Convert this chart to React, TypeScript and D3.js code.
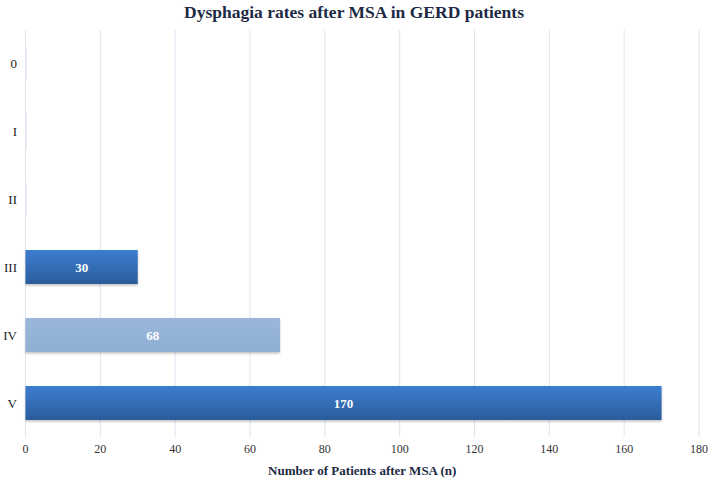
import * as d3 from "d3";

// Dysphagia grade per category, patient counts after MSA
const CATEGORIES = ["0", "I", "II", "III", "IV", "V"];
const VALUES = [0, 0, 0, 30, 68, 170];
const BAR_STYLE = ["dark", "dark", "dark", "dark", "light", "dark"];
const X_TICKS = [0, 20, 40, 60, 80, 100, 120, 140, 160, 180];

const W = 708;
const H = 481;
const FONT = "'Liberation Serif', 'Times New Roman', serif";

export default function App() {
  const x = d3.scaleLinear().domain([0, 180]).range([25.5, 699]);
  const y = d3.scaleBand<string>().domain(CATEGORIES).range([29, 437]).paddingInner(0.5).paddingOuter(0.25);

  return (
    <svg width={W} height={H} style={{ position: "absolute", left: 0, top: 0, background: "#fff" }}>
      <defs>
        <linearGradient id="dark" x1="0" y1="0" x2="0" y2="1">
          <stop offset="0" stopColor="#3b7dd0" />
          <stop offset="1" stopColor="#2b5d9b" />
        </linearGradient>
        <linearGradient id="light" x1="0" y1="0" x2="0" y2="1">
          <stop offset="0" stopColor="#9ab7db" />
          <stop offset="1" stopColor="#8eaed4" />
        </linearGradient>
        <filter id="sh" x="-5%" y="-20%" width="110%" height="150%">
          <feDropShadow dx="0" dy="1.5" stdDeviation="1" floodColor="#000" floodOpacity="0.25" />
        </filter>
      </defs>
      <text x={W / 2} y={18} textAnchor="middle" fontFamily={FONT} fontWeight="bold" fontSize={17.5} fill="#1d2a44">
        Dysphagia rates after MSA in GERD patients
      </text>
      {X_TICKS.map((t) => (
        <g key={t}>
          <line x1={x(t)} x2={x(t)} y1={30} y2={437} stroke="#dbe5f0" strokeWidth={1} />
          <text x={x(t)} y={453} textAnchor="middle" fontFamily={FONT} fontSize={12} fill="#333">
            {t}
          </text>
        </g>
      ))}
      {CATEGORIES.map((c, i) => {
        const by = y(c)!;
        const bh = y.bandwidth();
        const w = x(VALUES[i]) - x(0);
        return (
          <g key={c}>
            <text x={17} y={by + bh / 2 + 4.5} textAnchor="end" fontFamily={FONT} fontSize={13} fill="#222">
              {c}
            </text>
            {VALUES[i] > 0 ? (
              <g>
                <rect x={x(0)} y={by} width={w} height={bh} fill={`url(#${BAR_STYLE[i]})`} filter="url(#sh)" />
                <text
                  x={x(0) + w / 2}
                  y={by + bh / 2 + 4.5}
                  textAnchor="middle"
                  fontFamily={FONT}
                  fontWeight="bold"
                  fontSize={13}
                  fill="#fff"
                >
                  {VALUES[i]}
                </text>
              </g>
            ) : (
              <rect x={x(0)} y={by} width={1.5} height={bh} fill="#e8ecf1" />
            )}
          </g>
        );
      })}
      <text x={x(90)} y={475} textAnchor="middle" fontFamily={FONT} fontWeight="bold" fontSize={13} fill="#1d2a44">
        Number of Patients after MSA (n)
      </text>
    </svg>
  );
}
